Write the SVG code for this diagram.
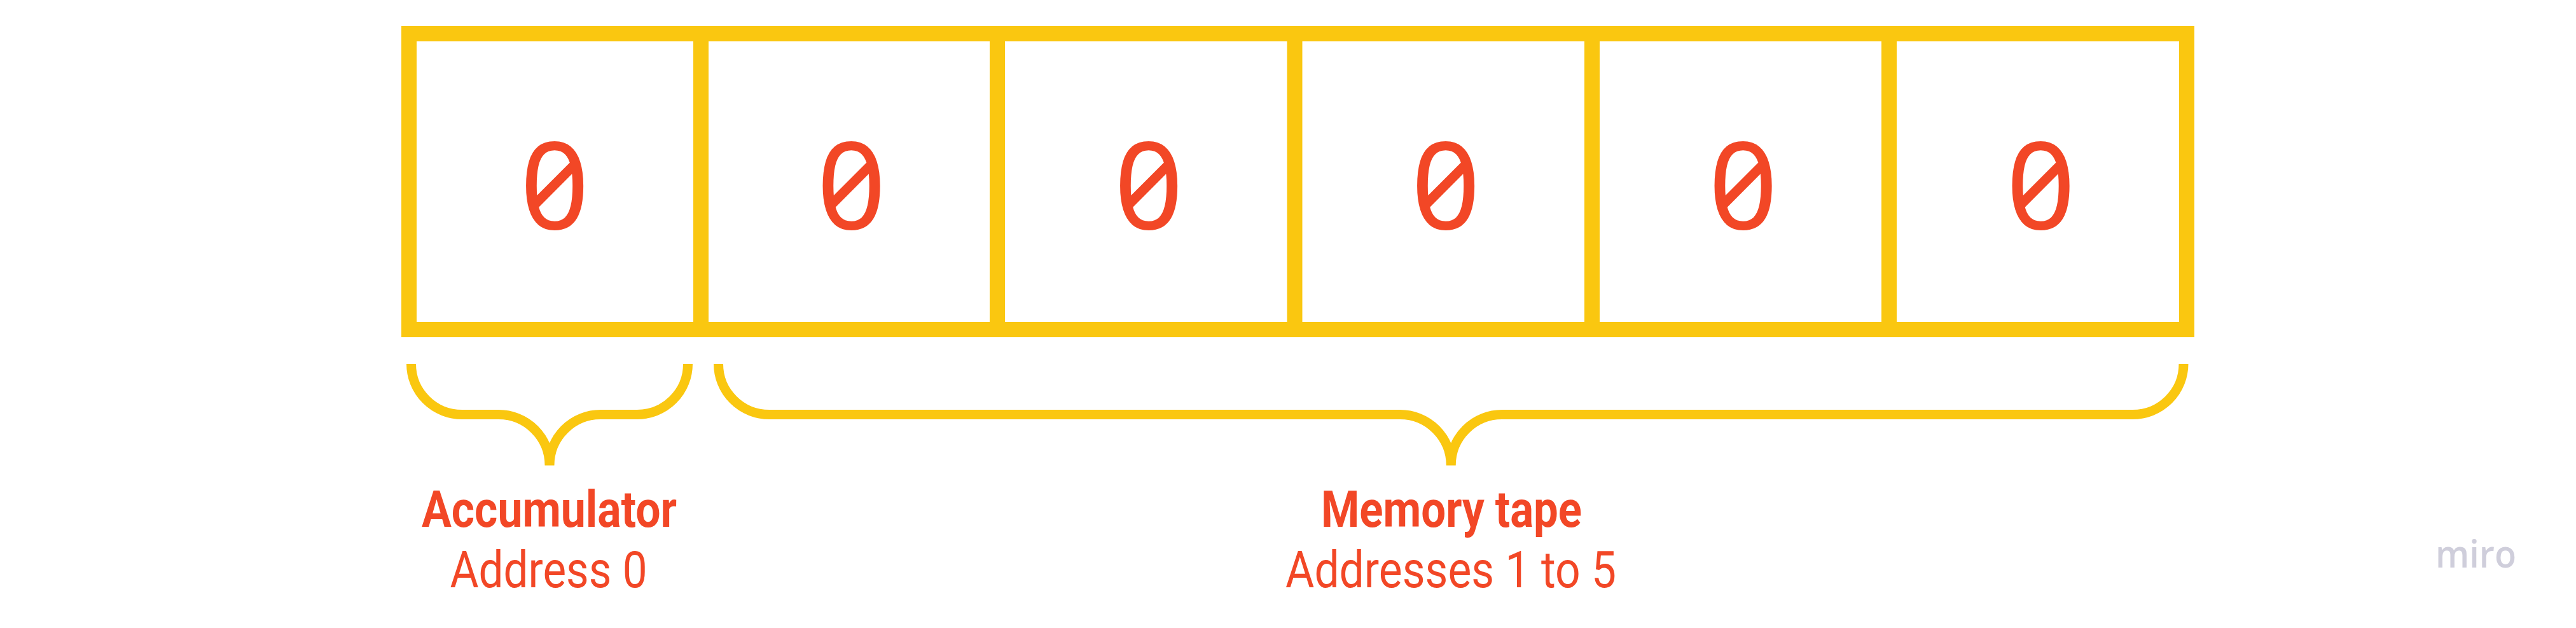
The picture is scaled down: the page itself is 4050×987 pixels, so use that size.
<svg xmlns="http://www.w3.org/2000/svg" width="4050" height="987" viewBox="0 0 4050 987">
<style>
.cell{fill:#ffffff;stroke:#fac710;stroke-width:24}
.zero{fill:#f24726;font-family:"Noto Sans","DejaVu Sans",sans-serif;font-feature-settings:"zero" 1;font-variant-numeric:slashed-zero;font-size:190px;text-anchor:middle}
.brace{fill:none;stroke:#fac710;stroke-width:15;stroke-linecap:butt}
.title{fill:#f24726;font-family:Roboto,"Liberation Sans",sans-serif;font-size:80px;font-weight:700}
.sub{fill:#f24726;font-family:Roboto,"Liberation Sans",sans-serif;font-size:80px;font-weight:400}
</style>
<rect width="4050" height="987" fill="#ffffff"/>
<g id="cell0"><rect class="cell" x="643" y="53" width="466" height="465"/><text class="zero" x="872" y="360">0</text></g>
<g id="cell1"><rect class="cell" x="1102" y="53" width="474" height="465"/><text class="zero" x="1338.5" y="360">0</text></g>
<g id="cell2"><rect class="cell" x="1568" y="53" width="475.5" height="465"/><text class="zero" x="1806" y="360">0</text></g>
<g id="cell3"><rect class="cell" x="2035.5" y="53" width="475.5" height="465"/><text class="zero" x="2273" y="360">0</text></g>
<g id="cell4"><rect class="cell" x="2503" y="53" width="476" height="465"/><text class="zero" x="2740.5" y="360">0</text></g>
<g id="cell5"><rect class="cell" x="2970" y="53" width="468" height="465"/><text class="zero" x="3208.5" y="360">0</text></g>
<g id="connectors">
<path class="brace" d="M646.5,572 A80,79.5 0 0 0 726.5,651.5 H784 A80,80 0 0 1 864,731.5 M864,731.5 A80,80 0 0 1 944,651.5 H1001.5 A80,79.5 0 0 0 1081.5,572"/>
<path class="brace" d="M1129.5,572 A80,79.5 0 0 0 1209.5,651.5 H2201.25 A80,80 0 0 1 2281.25,731.5 M2281.25,731.5 A80,80 0 0 1 2361.25,651.5 H3353 A80,79.5 0 0 0 3433,572"/>
</g>
<g id="label-accumulator">
<text class="title" x="663" y="828" textLength="401" lengthAdjust="spacingAndGlyphs">Accumulator</text>
<text class="sub" x="707.5" y="923" textLength="310" lengthAdjust="spacingAndGlyphs">Address 0</text>
</g>
<g id="label-memory">
<text class="title" x="2077" y="828" textLength="410" lengthAdjust="spacingAndGlyphs">Memory tape</text>
<text class="sub" x="2021" y="923" textLength="520" lengthAdjust="spacingAndGlyphs">Addresses 1 to 5</text>
</g>
<g id="logo">
<text x="3829" y="892" textLength="127" lengthAdjust="spacingAndGlyphs" style="fill:#cfcedb;font-family:'Open Sans',sans-serif;font-weight:600;font-size:59px">miro</text>
</g>
</svg>
